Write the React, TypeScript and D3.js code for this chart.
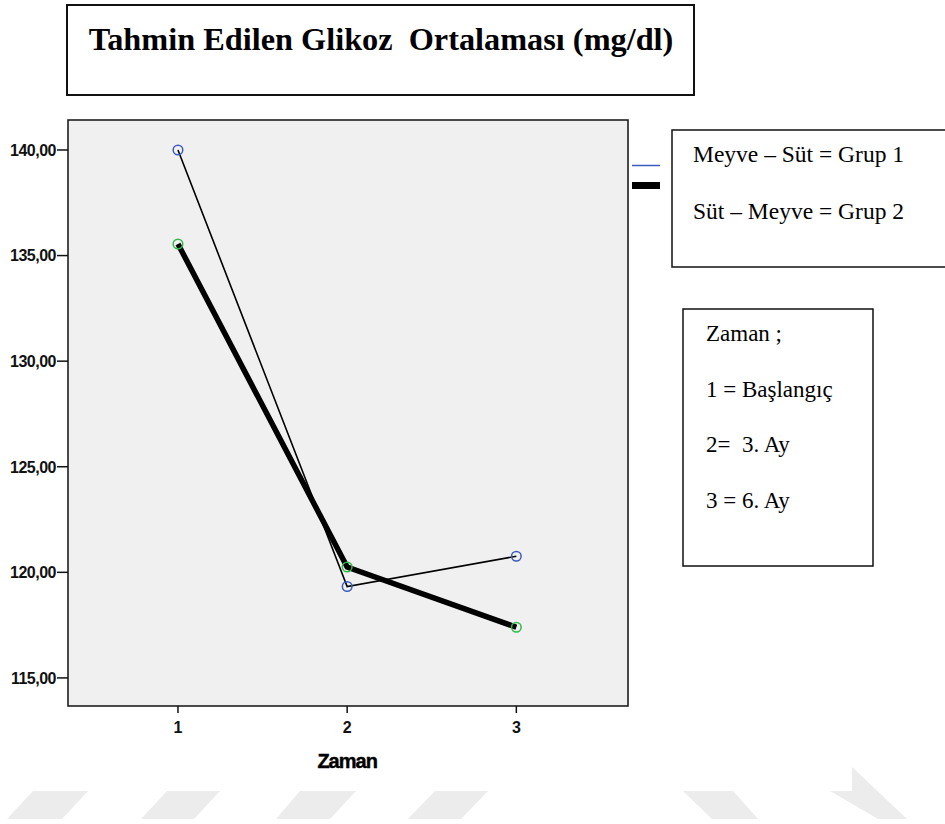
import React from "react";
import * as d3 from "d3";

const times = [1, 2, 3];
const grup1 = [140.0, 119.33, 120.76];
const grup2 = [135.55, 120.25, 117.4];
const yTicks = [115, 120, 125, 130, 135, 140];
const titleText = "Tahmin Edilen Glikoz  Ortalaması (mg/dl)";
const legendLines = ["Meyve – Süt = Grup 1", "Süt – Meyve = Grup 2"];
const zamanLines = ["Zaman ;", "1 = Başlangıç", "2=  3. Ay", "3 = 6. Ay"];
const xTitle = "Zaman";

const W = 945;
const H = 824;
const plot = { left: 68, right: 628, top: 120, bottom: 706 };
const serif = "'Liberation Serif', 'Times New Roman', serif";
const sans = "'Liberation Sans', Arial, sans-serif";

const stripes = [
  "33,791 88,791 62,819 7,819",
  "167,791 220,791 194,819 141,819",
  "300,791 356,791 330,819 276,819",
  "435,791 488,791 461,819 408,819",
  "683,791 733,791 758,819 712,819",
  "852,767 907,819 878,819 830,791 852,791",
];

export default function App() {
  const x = d3.scaleLinear().domain([0.35, 3.66]).range([plot.left, plot.right]);
  const y = d3.scaleLinear().domain([113.67, 141.42]).range([plot.bottom, plot.top]);
  const line = d3
    .line<[number, number]>()
    .x((d) => x(d[0]))
    .y((d) => y(d[1]));
  const d1 = times.map((t, i) => [t, grup1[i]] as [number, number]);
  const d2 = times.map((t, i) => [t, grup2[i]] as [number, number]);
  const fmt = (v: number) => d3.format(".2f")(v).replace(".", ",");

  return (
    <svg
      width={W}
      height={H}
      style={{ position: "absolute", left: 0, top: 0, display: "block", background: "#fff" }}
    >
      {/* watermark stripes */}
      {stripes.map((p, i) => (
        <polygon key={i} points={p} fill="#ececec" />
      ))}

      {/* title box */}
      <rect x={67} y={5} width={627} height={90} fill="#fff" stroke="#111" strokeWidth={2} />
      <text
        x={381}
        y={50}
        textAnchor="middle"
        fontFamily={serif}
        fontWeight="bold"
        fontSize={32.3}
        fill="#000"
        style={{ whiteSpace: "pre" }}
      >
        {titleText}
      </text>

      {/* plot area */}
      <rect
        x={plot.left}
        y={plot.top}
        width={plot.right - plot.left}
        height={plot.bottom - plot.top}
        fill="#f0f0f0"
        stroke="#111"
        strokeWidth={1.5}
      />

      {/* y axis */}
      {yTicks.map((t) => (
        <g key={t}>
          <line x1={57} x2={plot.left} y1={y(t)} y2={y(t)} stroke="#111" strokeWidth={1.5} />
          <text
            x={56}
            y={y(t)}
            dy="0.36em"
            textAnchor="end"
            fontFamily={sans}
            fontWeight="bold"
            fontSize={16}
            letterSpacing={-0.5}
            fill="#111"
          >
            {fmt(t)}
          </text>
        </g>
      ))}

      {/* x axis */}
      {times.map((t) => (
        <g key={t}>
          <line x1={x(t)} x2={x(t)} y1={plot.bottom} y2={plot.bottom + 7} stroke="#111" strokeWidth={1.5} />
          <text
            x={x(t)}
            y={733}
            textAnchor="middle"
            fontFamily={sans}
            fontWeight="bold"
            fontSize={16}
            fill="#111"
          >
            {t}
          </text>
        </g>
      ))}
      <text
        x={x(2)}
        y={768}
        textAnchor="middle"
        fontFamily={sans}
        fontWeight="bold"
        fontSize={20}
        letterSpacing={-1}
        fill="#000"
        stroke="#000"
        strokeWidth={0.4}
      >
        {xTitle}
      </text>

      {/* series */}
      <path d={line(d1) || ""} fill="none" stroke="#000" strokeWidth={1.6} />
      <path d={line(d2) || ""} fill="none" stroke="#000" strokeWidth={5.5} />
      {d1.map((d, i) => (
        <circle key={"a" + i} cx={x(d[0])} cy={y(d[1])} r={4.8} fill="none" stroke="#3d5bbd" strokeWidth={1.5} />
      ))}
      {d2.map((d, i) => (
        <circle key={"b" + i} cx={x(d[0])} cy={y(d[1])} r={4.8} fill="none" stroke="#2fba45" strokeWidth={1.5} />
      ))}

      {/* legend swatches */}
      <line x1={632} x2={660} y1={165.5} y2={165.5} stroke="#3d5bbd" strokeWidth={1.5} />
      <rect x={632} y={182} width={28} height={7} fill="#000" />

      {/* legend box */}
      <rect x={672} y={130} width={290} height={137} fill="#fff" stroke="#111" strokeWidth={1.5} />
      {legendLines.map((s, i) => (
        <text key={s} x={693} y={162 + i * 57} fontFamily={serif} fontSize={23.5} fill="#000">
          {s}
        </text>
      ))}

      {/* zaman box */}
      <rect x={683} y={309} width={190} height={257} fill="#fff" stroke="#111" strokeWidth={1.5} />
      {zamanLines.map((s, i) => (
        <text
          key={s}
          x={706}
          y={341 + i * 55.7}
          fontFamily={serif}
          fontSize={23}
          fill="#000"
          style={{ whiteSpace: "pre" }}
        >
          {s}
        </text>
      ))}
    </svg>
  );
}
